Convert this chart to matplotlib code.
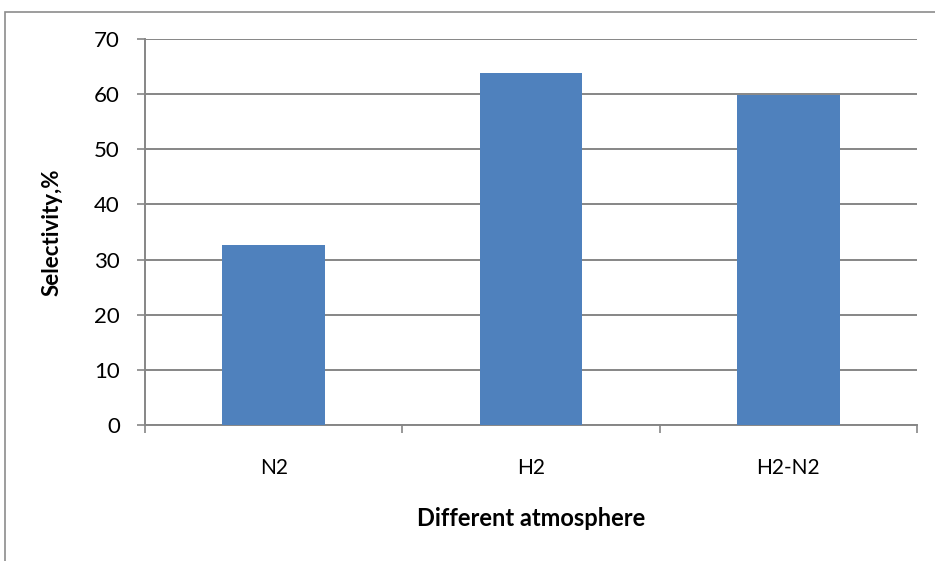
import matplotlib.pyplot as plt
from matplotlib.patches import Rectangle
import numpy as np

plt.rcParams['font.family'] = ['Lato', 'DejaVu Sans']

categories = ['N2', 'H2', 'H2-N2']
selectivity = [32.6, 63.9, 59.9]
y_ticks = [0, 10, 20, 30, 40, 50, 60, 70]

W, H = 935, 561
fig = plt.figure(figsize=(W / 100, H / 100), dpi=100)

# outer chart border (cut off on the right and bottom like the reference)
fig.patches.append(Rectangle((5 / W, -0.1), 1.2, 1 - 12 / H + 0.1,
                             transform=fig.transFigure, fill=False,
                             edgecolor='#8c8c8c', linewidth=1.2))

ax = fig.add_axes([145 / W, 1 - 425 / H, (917 - 145) / W, (425 - 39) / H])

gray = '#868686'
x = np.arange(len(categories))
ax.bar(x, selectivity, width=0.4, color='#4f81bd', zorder=3)

ax.set_xlim(-0.5, len(categories) - 0.5)
ax.set_ylim(0, 70)
ax.set_yticks(y_ticks)
ax.set_yticklabels([str(v) for v in y_ticks], fontsize=16)
ax.yaxis.grid(True, color=gray, linewidth=1.4, zorder=0)

ax.set_xticks(np.arange(len(categories) + 1) - 0.5)
ax.set_xticklabels([])
ax.set_xticks(x, minor=True)
ax.set_xticklabels(categories, minor=True, fontsize=15)
ax.tick_params(axis='x', which='major', length=6, color=gray, width=1.2, direction='out')
ax.tick_params(axis='x', which='minor', length=0, pad=24)
ax.tick_params(axis='y', length=6, color=gray, width=1.2, direction='out', pad=12)

for side in ['top', 'right']:
    ax.spines[side].set_visible(False)
for side in ['left', 'bottom']:
    ax.spines[side].set_color(gray)
    ax.spines[side].set_linewidth(1.4)

ax.set_xlabel('Different atmosphere', fontsize=17, fontweight='bold')
ax.xaxis.set_label_coords(0.5, (425 - 507) / 386)
ax.set_ylabel('Selectivity,%', fontsize=16, fontweight='bold')
ax.yaxis.set_label_coords((63 - 145) / 772, 0.5)

fig.savefig('out.png', dpi=100)
